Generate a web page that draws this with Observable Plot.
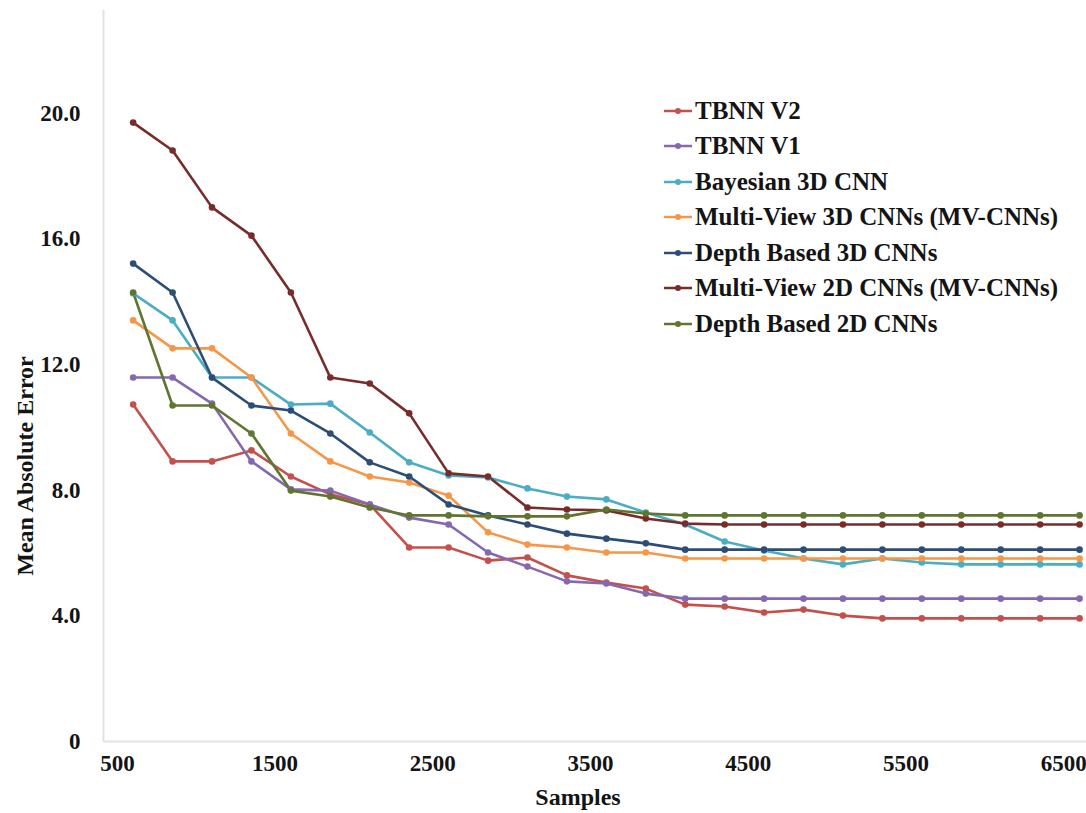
<!DOCTYPE html>
<html><head><meta charset="utf-8">
<script src="https://cdn.jsdelivr.net/npm/d3@7"></script>
<script src="https://cdn.jsdelivr.net/npm/@observablehq/plot@0.6"></script>
<style>
body{margin:0;background:#fff;}
#wrap{position:relative;width:1086px;height:813px;overflow:hidden;}
#legend{position:absolute;left:664px;top:93px;font-family:"Liberation Serif","Times New Roman",serif;font-weight:bold;font-size:25px;color:#141414;}
.row{height:35.5px;display:flex;align-items:center;white-space:nowrap;}
.row svg{margin-right:3px;}
</style></head><body><div id="wrap"></div>
<script>
const samples = [600, 850, 1100, 1350, 1600, 1850, 2100, 2350, 2600, 2850, 3100, 3350, 3600, 3850, 4100, 4350, 4600, 4850, 5100, 5350, 5600, 5850, 6100, 6350, 6600];
const seriesNames = ["TBNN V2", "TBNN V1", "Bayesian 3D CNN", "Multi-View 3D CNNs (MV-CNNs)", "Depth Based 3D CNNs", "Multi-View 2D CNNs (MV-CNNs)", "Depth Based 2D CNNs"];
const seriesColors = ["#c4504d", "#8468b0", "#4bacc6", "#f79646", "#2c4d75", "#772c2a", "#5f7530"];
const tbnnV2 = [10.73, 8.92, 8.92, 9.27, 8.44, 7.87, 7.55, 6.18, 6.18, 5.76, 5.86, 5.29, 5.06, 4.87, 4.36, 4.30, 4.11, 4.20, 4.01, 3.92, 3.92, 3.92, 3.92, 3.92, 3.92];
const tbnnV1 = [11.59, 11.59, 10.76, 8.92, 8.03, 7.99, 7.55, 7.13, 6.91, 6.02, 5.57, 5.10, 5.03, 4.71, 4.55, 4.55, 4.55, 4.55, 4.55, 4.55, 4.55, 4.55, 4.55, 4.55, 4.55];
const bayesian3D = [14.27, 13.41, 11.59, 11.59, 10.73, 10.76, 9.84, 8.89, 8.47, 8.41, 8.06, 7.80, 7.71, 7.29, 6.91, 6.37, 6.08, 5.83, 5.64, 5.83, 5.70, 5.64, 5.64, 5.64, 5.64];
const multiView3D = [13.41, 12.52, 12.52, 11.59, 9.81, 8.92, 8.44, 8.25, 7.83, 6.66, 6.27, 6.18, 6.02, 6.02, 5.83, 5.83, 5.83, 5.83, 5.83, 5.83, 5.83, 5.83, 5.83, 5.83, 5.83];
const depth3D = [15.22, 14.30, 11.59, 10.70, 10.54, 9.81, 8.89, 8.44, 7.55, 7.20, 6.91, 6.62, 6.46, 6.31, 6.11, 6.11, 6.11, 6.11, 6.11, 6.11, 6.11, 6.11, 6.11, 6.11, 6.11];
const multiView2D = [19.71, 18.82, 17.01, 16.11, 14.30, 11.59, 11.40, 10.45, 8.54, 8.44, 7.45, 7.39, 7.36, 7.10, 6.94, 6.91, 6.91, 6.91, 6.91, 6.91, 6.91, 6.91, 6.91, 6.91, 6.91];
const depth2D = [14.30, 10.70, 10.70, 9.81, 7.99, 7.80, 7.45, 7.20, 7.20, 7.17, 7.17, 7.17, 7.39, 7.26, 7.20, 7.20, 7.20, 7.20, 7.20, 7.20, 7.20, 7.20, 7.20, 7.20, 7.20];
const yTicks = [0, 4, 8, 12, 16, 20];
const xTicks = [500, 1500, 2500, 3500, 4500, 5500, 6500];

const allValues = [tbnnV2, tbnnV1, bayesian3D, multiView3D, depth3D, multiView2D, depth2D];
const data = seriesNames.flatMap((name, i) => samples.map((s, j) => ({series: name, samples: s, mae: allValues[i][j]})));

const font = '"Liberation Serif","Times New Roman",serif';
const xMin = 412, xMax = 6644, yMax = 23.28;
const chart = Plot.plot({
  width: 1086,
  height: 813,
  marginLeft: 103,
  marginRight: 0,
  marginTop: 10,
  marginBottom: 72,
  style: {fontFamily: font, fontSize: "23px", fontWeight: "bold", color: "#141414", background: "#fff"},
  x: {domain: [xMin, xMax], ticks: xTicks, tickSize: 0, tickPadding: 13, tickFormat: d => String(d), label: null},
  y: {domain: [0, yMax], nice: false, ticks: yTicks, tickSize: 0, tickPadding: 23, tickFormat: d => d === 0 ? "0" : d.toFixed(1), label: null},
  color: {domain: seriesNames, range: seriesColors},
  marks: [
    Plot.ruleX([xMin], {stroke: "#e2e2e2", strokeWidth: 2}),
    Plot.ruleY([0], {stroke: "#e2e2e2", strokeWidth: 2}),
    Plot.line(data, {x: "samples", y: "mae", z: "series", stroke: "series", strokeWidth: 2.6}),
    Plot.dot(data, {x: "samples", y: "mae", fill: "series", r: 3.3}),
    Plot.text(["Samples"], {frameAnchor: "bottom", textAnchor: "middle", dy: 63, dx: -17, fontSize: 24}),
    Plot.text(["Mean Absolute Error"], {frameAnchor: "left", textAnchor: "middle", rotate: -90, dx: -78, dy: 90, fontSize: 24})
  ]
});
const wrap = document.getElementById("wrap");
wrap.appendChild(chart);

const legend = document.createElement("div");
legend.id = "legend";
seriesNames.forEach((name, i) => {
  const row = document.createElement("div");
  row.className = "row";
  row.innerHTML = `<svg width="28" height="10"><line x1="0" x2="28" y1="5" y2="5" stroke="${seriesColors[i]}" stroke-width="2.5"/><circle cx="14" cy="5" r="3" fill="${seriesColors[i]}"/></svg><span>${name}</span>`;
  legend.appendChild(row);
});
wrap.appendChild(legend);
</script>
</body></html>
